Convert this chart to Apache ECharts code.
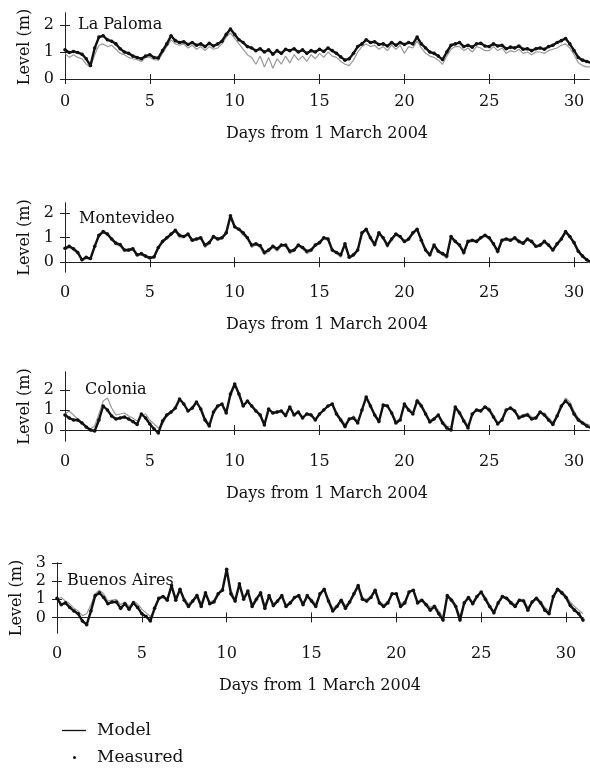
<!DOCTYPE html>
<html>
<head>
<meta charset="utf-8">
<script src="https://cdn.jsdelivr.net/npm/echarts@6/dist/echarts.min.js"></script>
<style>html,body{margin:0;padding:0;background:#fff}#c{width:590px;height:769px}</style>
</head>
<body>
<div id="c"></div>
<script>
// ---- data (sampled every 0.25 day, starting at day 0) ----
const STEP = 0.25;
const stations = ['La Paloma', 'Montevideo', 'Colonia', 'Buenos Aires'];
const xTicks = [0, 5, 10, 15, 20, 25, 30];
const yTicks1 = [0, 1, 2];
const yTicks2 = [0, 1, 2];
const yTicks3 = [0, 1, 2];
const yTicks4 = [0, 1, 2, 3];

const palomaMeasured = [
1.08,0.98,1.02,0.98, 0.92,0.75,0.50,1.15, 1.55,1.60,1.45,1.40, 1.30,1.12,1.00,0.95,
0.85,0.80,0.75,0.85, 0.90,0.80,0.78,1.05, 1.30,1.60,1.42,1.35, 1.38,1.28,1.35,1.25,
1.30,1.20,1.32,1.22, 1.30,1.40,1.65,1.85, 1.65,1.45,1.35,1.20, 1.15,1.05,1.12,1.00,
1.08,0.92,1.05,0.95, 1.10,1.05,1.12,1.00, 1.08,0.95,1.05,1.00, 1.10,1.02,1.15,1.05,
0.95,0.82,0.70,0.75, 0.95,1.20,1.30,1.45, 1.35,1.38,1.28,1.30, 1.22,1.35,1.25,1.35,
1.28,1.35,1.30,1.55, 1.30,1.15,1.00,0.95, 0.85,0.72,1.00,1.25, 1.30,1.35,1.20,1.25,
1.18,1.30,1.32,1.22, 1.20,1.30,1.22,1.25, 1.12,1.18,1.15,1.22, 1.10,1.12,1.05,1.12,
1.15,1.10,1.20,1.25, 1.35,1.42,1.50,1.30, 1.05,0.80,0.70,0.65, 0.60];
const palomaModel = [
0.95,0.80,0.90,0.80, 0.75,0.55,0.45,0.90, 1.25,1.30,1.20,1.25, 1.10,0.95,0.90,0.80,
0.75,0.72,0.65,0.80, 0.80,0.72,0.70,0.95, 1.20,1.45,1.30,1.25, 1.30,1.15,1.25,1.10,
1.20,1.05,1.20,1.10, 1.15,1.30,1.55,1.70, 1.50,1.30,1.10,0.90, 0.80,0.55,0.85,0.45,
0.80,0.40,0.75,0.55, 0.85,0.60,0.90,0.70, 0.85,0.65,0.90,0.75, 0.95,0.80,1.00,0.85,
0.80,0.65,0.55,0.50, 0.70,1.00,1.20,1.30, 1.20,1.25,1.10,1.20, 1.05,1.25,1.10,1.25,
0.95,1.20,1.15,1.40, 1.15,0.95,0.85,0.80, 0.70,0.55,0.85,1.10, 1.20,1.20,1.05,1.15,
1.00,1.20,1.15,1.05, 1.05,1.20,1.05,1.15, 0.95,1.05,1.00,1.10, 0.95,1.00,0.90,1.00,
1.00,0.95,1.05,1.10, 1.15,1.25,1.30,1.15, 0.90,0.60,0.50,0.45, 0.45];

const montevideoMeasured = [
0.57,0.65,0.55,0.40, 0.10,0.20,0.15,0.65, 1.10,1.25,1.15,0.95, 0.78,0.72,0.50,0.50,
0.55,0.30,0.35,0.25, 0.18,0.22,0.60,0.85, 1.00,1.15,1.30,1.10, 1.05,1.15,0.90,0.95,
1.00,0.70,0.80,1.05, 0.95,1.00,1.20,1.90, 1.45,1.35,1.20,1.00, 0.70,0.75,0.68,0.40,
0.50,0.65,0.55,0.70, 0.70,0.45,0.50,0.70, 0.60,0.45,0.50,0.70, 0.80,1.00,0.95,0.50,
0.40,0.30,0.75,0.20, 0.30,0.50,1.20,1.35, 1.00,0.72,1.20,1.00, 0.70,0.95,1.15,1.05,
0.85,0.95,1.20,1.35, 0.90,0.50,0.30,0.70, 0.45,0.35,0.25,1.05, 0.85,0.70,0.40,0.85,
0.90,0.85,1.00,1.10, 1.00,0.75,0.45,0.90, 0.95,0.90,1.00,0.85, 0.78,0.95,0.85,0.65,
0.70,0.85,0.70,0.50, 0.75,0.95,1.25,1.05, 0.80,0.45,0.25,0.10, 0.00];
const montevideoModel = [
0.50,0.60,0.50,0.35, 0.05,0.15,0.10,0.60, 1.05,1.20,1.10,0.90, 0.72,0.65,0.45,0.45,
0.50,0.25,0.30,0.20, 0.12,0.18,0.55,0.80, 0.95,1.10,1.25,1.00, 1.00,1.10,0.85,0.90,
0.95,0.60,0.75,1.00, 0.90,0.95,1.15,1.80, 1.40,1.30,1.10,0.95, 0.60,0.70,0.60,0.30,
0.45,0.60,0.45,0.65, 0.65,0.35,0.45,0.65, 0.55,0.35,0.45,0.65, 0.75,0.95,0.90,0.45,
0.35,0.20,0.70,0.15, 0.25,0.45,1.15,1.30, 0.95,0.65,1.15,0.95, 0.60,0.90,1.10,1.00,
0.80,0.90,1.15,1.30, 0.85,0.45,0.25,0.65, 0.40,0.30,0.15,1.00, 0.80,0.65,0.30,0.80,
0.85,0.80,0.95,1.05, 0.95,0.70,0.35,0.85, 0.90,0.85,0.95,0.80, 0.72,0.90,0.80,0.60,
0.65,0.80,0.65,0.45, 0.70,0.90,1.20,1.00, 0.75,0.40,0.20,0.05, -0.05];

const coloniaMeasured = [
0.75,0.60,0.50,0.50, 0.35,0.15,0.00,-0.05, 0.50,1.20,1.00,0.70, 0.55,0.60,0.65,0.55,
0.42,0.28,0.80,0.60, 0.30,0.05,-0.15,0.45, 0.75,0.90,1.10,1.55, 1.30,0.95,1.10,1.40,
1.05,0.50,0.20,0.90, 1.20,1.30,0.85,1.80, 2.30,1.80,1.20,1.45, 1.20,0.95,0.75,0.25,
1.05,0.85,0.90,0.95, 0.72,1.15,0.75,0.90, 0.60,0.80,0.75,0.50, 0.80,1.00,1.20,1.30,
0.80,0.50,0.17,0.55, 0.60,0.35,1.00,1.65, 1.20,0.75,0.42,1.25, 1.20,0.85,0.35,0.50,
1.30,1.00,0.80,1.45, 1.20,0.80,0.40,0.55, 0.75,0.35,0.10,0.00, 1.15,0.85,0.45,0.10,
0.80,1.00,0.95,1.15, 1.00,0.65,0.30,0.50, 1.00,1.10,0.95,0.60, 0.70,0.75,0.55,0.60,
0.90,0.75,0.50,0.28, 0.70,1.20,1.45,1.25, 0.80,0.50,0.35,0.20, 0.10];
const coloniaModel = [
0.80,0.95,0.75,0.55, 0.40,0.20,0.05,0.20, 0.80,1.45,1.60,1.10, 0.75,0.80,0.85,0.70,
0.60,0.45,0.75,0.80, 0.50,0.30,0.10,0.30, 0.70,0.85,1.05,1.45, 1.35,1.00,1.05,1.35,
1.10,0.60,0.30,0.80, 1.15,1.30,0.95,1.65, 2.20,1.85,1.25,1.40, 1.25,1.00,0.80,0.35,
0.95,0.90,0.85,1.00, 0.75,1.10,0.80,0.95, 0.65,0.85,0.80,0.55, 0.75,1.05,1.15,1.35,
0.90,0.55,0.30,0.50, 0.70,0.45,0.95,1.55, 1.30,0.80,0.50,1.15, 1.25,0.90,0.45,0.55,
1.20,1.05,0.90,1.55, 1.30,0.90,0.50,0.60, 0.80,0.45,0.20,0.15, 1.05,0.95,0.55,0.25,
0.70,1.05,1.00,1.20, 1.10,0.75,0.40,0.50, 0.95,1.15,1.00,0.70, 0.75,0.85,0.65,0.65,
0.85,0.85,0.60,0.40, 0.65,1.10,1.60,1.40, 0.95,0.60,0.40,0.30, 0.20];

const buenosAiresMeasured = [
1.05,0.70,0.80,0.55, 0.35,0.20,-0.20,-0.40, 0.35,1.20,1.35,1.10, 0.75,0.85,0.85,0.50,
0.75,0.45,0.80,0.55, 0.20,0.05,-0.20,0.50, 1.05,1.15,0.95,1.75, 0.95,1.55,0.95,0.60,
0.90,1.20,0.60,1.35, 0.75,0.85,1.30,1.50, 2.65,1.30,0.90,1.85, 1.00,1.45,0.60,1.00,
1.35,0.50,1.20,0.65, 0.90,1.20,0.60,0.80, 1.10,1.20,0.70,1.20, 0.90,0.60,1.30,1.55,
0.90,0.35,0.60,0.95, 0.50,0.85,1.30,1.75, 1.00,0.90,1.10,1.50, 0.80,0.60,0.80,1.30,
1.30,0.60,0.80,1.40, 1.50,0.80,0.95,0.70, 0.40,0.60,0.20,-0.15, 1.20,0.95,0.60,-0.15,
0.80,1.10,0.75,1.15, 1.40,1.00,0.60,0.25, 0.80,1.15,1.05,0.80, 0.60,0.95,0.90,0.40,
0.85,1.05,0.80,0.40, 0.20,1.15,1.55,1.35, 1.10,0.65,0.40,0.20, -0.15];
const buenosAiresModel = [
1.00,1.10,0.90,0.75, 0.50,0.35,0.10,0.20, 0.70,1.30,1.50,1.30, 0.90,0.95,1.00,0.70,
0.85,0.60,0.90,0.75, 0.45,0.25,0.05,0.40, 0.95,1.20,1.05,1.60, 1.10,1.50,1.05,0.75,
0.95,1.30,0.75,1.35, 0.85,0.95,1.35,1.60, 2.45,1.50,1.00,1.75, 1.10,1.40,0.75,1.05,
1.30,0.65,1.20,0.75, 0.95,1.15,0.70,0.85, 1.05,1.20,0.80,1.15, 1.00,0.75,1.30,1.50,
1.00,0.50,0.65,1.00, 0.65,0.90,1.35,1.70, 1.10,1.00,1.15,1.45, 0.90,0.70,0.90,1.30,
1.35,0.75,0.90,1.40, 1.55,0.90,1.00,0.80, 0.55,0.70,0.35,0.05, 1.10,1.05,0.70,0.05,
0.75,1.15,0.85,1.20, 1.40,1.10,0.70,0.35, 0.75,1.20,1.10,0.90, 0.70,1.00,1.00,0.55,
0.85,1.10,0.90,0.55, 0.35,1.10,1.60,1.45, 1.20,0.85,0.60,0.40, 0.20];

const measuredSets = [palomaMeasured, montevideoMeasured, coloniaMeasured, buenosAiresMeasured];
const modelSets = [palomaModel, montevideoModel, coloniaModel, buenosAiresModel];
const yTickSets = [yTicks1, yTicks2, yTicks3, yTicks4];

// ---- layout ----
const FONT = 'DejaVu Serif';
const panels = [
  {left: 65, top: 13, width: 524, height: 68, xMax: 30.88, yMin: -0.07, yMax: 2.44, tx: 78, ty: 17},
  {left: 65, top: 203, width: 524, height: 69, xMax: 30.88, yMin: -0.4, yMax: 2.42, tx: 79, ty: 211},
  {left: 65, top: 372, width: 524, height: 69, xMax: 30.88, yMin: -0.55, yMax: 2.9, tx: 85, ty: 382},
  {left: 57, top: 563, width: 526, height: 70, xMax: 31.0, yMin: -0.86, yMax: 3.0, tx: 67, ty: 573}
];

function pairs(arr) { return arr.map((v, i) => [i * STEP, v]); }

const axisLineStyle = {show: true, lineStyle: {color: '#222', width: 1}};
const grid = [], xAxis = [], yAxis = [], series = [], title = [];
panels.forEach((p, k) => {
  grid.push({left: p.left, top: p.top, width: p.width, height: p.height, containLabel: false});
  xAxis.push({
    type: 'value', gridIndex: k, min: 0, max: p.xMax, position: 'bottom',
    axisLine: axisLineStyle,
    axisTick: {show: true, inside: true, length: 5, customValues: xTicks, lineStyle: {color: '#222'}},
    axisLabel: {customValues: xTicks, margin: 13, fontFamily: FONT, fontSize: 16, color: '#111'},
    splitLine: {show: false},
    name: 'Days from 1 March 2004', nameLocation: 'middle', nameGap: 45,
    nameTextStyle: {fontFamily: FONT, fontSize: 16, color: '#111'}
  });
  xAxis.push({
    type: 'value', gridIndex: k, min: 0, max: p.xMax, position: 'top',
    axisLine: axisLineStyle,
    axisTick: {show: true, inside: true, length: 5, customValues: xTicks, lineStyle: {color: '#222'}},
    axisLabel: {show: false}, splitLine: {show: false}
  });
  const yt = yTickSets[k];
  yAxis.push({
    type: 'value', gridIndex: k, min: p.yMin, max: p.yMax, position: 'left',
    axisLine: axisLineStyle,
    axisTick: {show: true, inside: true, length: 5, customValues: yt, lineStyle: {color: '#222'}},
    axisLabel: {customValues: yt, margin: 11, fontFamily: FONT, fontSize: 16, color: '#111'},
    splitLine: {show: false},
    name: 'Level (m)', nameLocation: 'middle', nameGap: 32, nameRotate: 90,
    nameTextStyle: {fontFamily: FONT, fontSize: 16, color: '#111'}
  });
  yAxis.push({
    type: 'value', gridIndex: k, min: p.yMin, max: p.yMax, position: 'right',
    axisLine: axisLineStyle,
    axisTick: {show: true, inside: true, length: 5, customValues: yt, lineStyle: {color: '#222'}},
    axisLabel: {show: false}, splitLine: {show: false}
  });
  series.push({
    name: 'Model', type: 'line', xAxisIndex: 2 * k, yAxisIndex: 2 * k,
    data: pairs(modelSets[k]), symbol: 'none', z: 2, silent: true,
    lineStyle: {color: '#9a9a9a', width: 1.2}, itemStyle: {color: '#9a9a9a'}
  });
  series.push({
    name: 'Measured', type: 'line', xAxisIndex: 2 * k, yAxisIndex: 2 * k,
    data: pairs(measuredSets[k]), symbol: 'circle', symbolSize: 3.6, showSymbol: true, z: 3, silent: true,
    lineStyle: {color: '#111', width: 2.4}, itemStyle: {color: '#111'}
  });
  title.push({
    text: stations[k], left: p.tx, top: p.ty, padding: 0,
    textStyle: {fontFamily: FONT, fontSize: 16, fontWeight: 'normal', color: '#111'}
  });
});

const chart = echarts.init(document.getElementById('c'), null, {renderer: 'canvas'});
chart.setOption({
  animation: false,
  backgroundColor: '#fff',
  title: title,
  grid: grid, xAxis: xAxis, yAxis: yAxis, series: series,
  legend: [
    {data: [{name: 'Model', icon: 'rect', itemStyle: {color: '#111'}}], orient: 'vertical', left: 57, top: 717,
     itemWidth: 24, itemHeight: 1.3, selectedMode: false,
     textStyle: {fontFamily: FONT, fontSize: 17, color: '#111', padding: [0, 0, 0, 6]}},
    {data: [{name: 'Measured', icon: 'circle', itemStyle: {color: '#111'}}], orient: 'vertical', left: 68, top: 744,
     itemWidth: 3, itemHeight: 3, selectedMode: false,
     textStyle: {fontFamily: FONT, fontSize: 17, color: '#111', padding: [0, 0, 0, 16]}}
  ]
});
</script>
</body>
</html>
